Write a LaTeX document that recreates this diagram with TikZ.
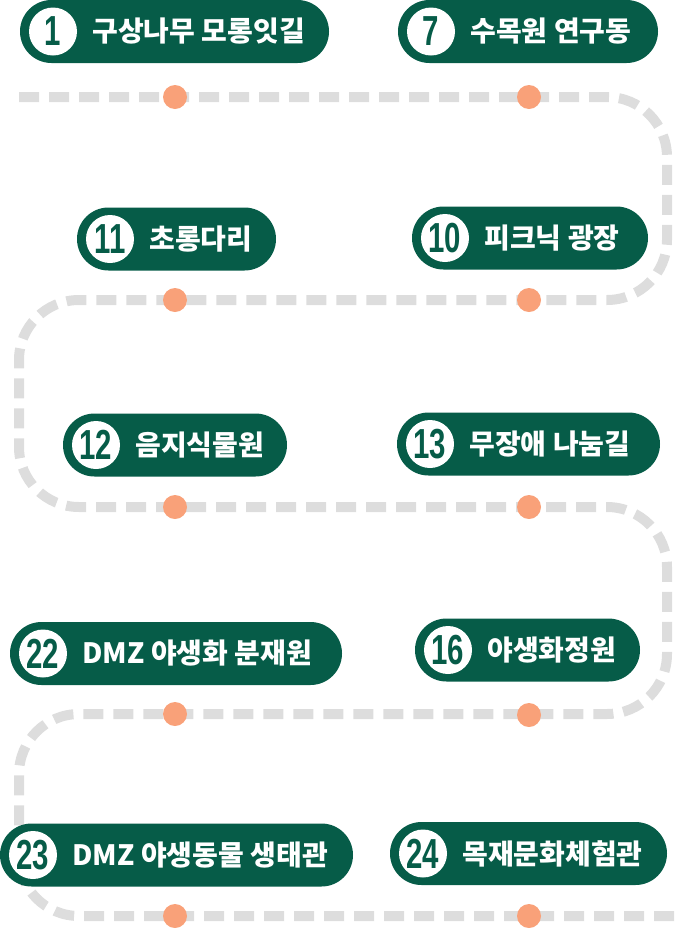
\documentclass[tikz,border=0pt]{standalone}
\usepackage{fontspec}
\usepackage{graphicx}
\usetikzlibrary{positioning}
\newfontfamily\korfont{Noto Sans CJK KR}
\newfontfamily\digitfont{Liberation Sans}
\definecolor{forestgreen}{RGB}{6,92,72}
\definecolor{trailgray}{RGB}{221,221,221}
\definecolor{peachdot}{RGB}{249,161,121}
\newcommand{\stopno}[1]{\scalebox{0.7}[1]{#1}}

\begin{document}
\begin{tikzpicture}[
    x=1pt, y=-1pt,
    pill/.style={
      rectangle,
      rounded corners=31.5pt,
      fill=forestgreen,
      minimum height=63pt,
      inner sep=0pt
    },
    numdisc/.style={
      circle,
      fill=white,
      minimum size=48pt,
      inner sep=0pt,
      text=forestgreen,
      font=\digitfont\bfseries\fontsize{42}{42}\selectfont
    },
    stoplabel/.style={
      inner sep=0pt,
      text=white,
      font=\korfont\bfseries\fontsize{28}{28}\selectfont
    },
    dot/.style={circle, fill=peachdot, minimum size=24pt, inner sep=0pt},
    trail/.style={draw=trailgray, line width=10pt, dash pattern=on 20pt off 10pt, rounded corners=60pt}
]
\useasboundingbox (0,0) rectangle (676,930);

\coordinate (start) at (19,97);
\coordinate (turnA) at (667,97);
\coordinate (turnB) at (667,300);
\coordinate (turnC) at (19,300);
\coordinate (turnD) at (19,507);
\coordinate (turnE) at (667,507);
\coordinate (turnF) at (667,714);
\coordinate (turnG) at (19,714);
\coordinate (turnH) at (19,916);
\coordinate (finish) at (676,916);

\draw[trail] (start) -- (turnA) -- (turnB) -- (turnC) -- (turnD) -- (turnE)
  -- (turnF) -- (turnG) -- (turnH) -- (finish);

\node[dot] (d1) at (175,97) {};
\node[dot] (d7) at (529,97) {};
\node[dot] (d11) at (175,300) {};
\node[dot] (d10) at (529,300) {};
\node[dot] (d12) at (175,507) {};
\node[dot] (d13) at (529,507) {};
\node[dot] (d22) at (175,714) {};
\node[dot] (d16) at (529,715) {};
\node[dot] (d23) at (175,916) {};
\node[dot] (d24) at (529,916) {};

\node[pill, minimum width=309pt] (p1) at (174.5,31.5) {};
\node[numdisc, right=9pt of p1.west] (n1) {\stopno{1}};
\node[stoplabel, right=15pt of n1] (t1) {구상나무 모롱잇길};

\node[pill, minimum width=260pt] (p7) at (528,31.5) {};
\node[numdisc, right=9pt of p7.west] (n7) {\stopno{7}};
\node[stoplabel, right=15pt of n7] (t7) {수목원 연구동};

\node[pill, minimum width=199pt] (p11) at (176.5,239) {};
\node[numdisc, right=9pt of p11.west] (n11) {\stopno{11}};
\node[stoplabel, right=15pt of n11] (t11) {초롱다리};

\node[pill, minimum width=236pt] (p10) at (530,238) {};
\node[numdisc, right=9pt of p10.west] (n10) {\stopno{10}};
\node[stoplabel, right=15pt of n10] (t10) {피크닉 광장};

\node[pill, minimum width=224pt] (p12) at (175,445) {};
\node[numdisc, right=9pt of p12.west] (n12) {\stopno{12}};
\node[stoplabel, right=15pt of n12] (t12) {음지식물원};

\node[pill, minimum width=263pt] (p13) at (528.5,444) {};
\node[numdisc, right=9pt of p13.west] (n13) {\stopno{13}};
\node[stoplabel, right=15pt of n13] (t13) {무장애 나눔길};

\node[pill, minimum width=332pt] (p22) at (176,653.5) {};
\node[numdisc, right=9pt of p22.west] (n22) {\stopno{22}};
\node[stoplabel, right=15pt of n22] (t22) {DMZ 야생화 분재원};

\node[pill, minimum width=225pt] (p16) at (527.5,650) {};
\node[numdisc, right=9pt of p16.west] (n16) {\stopno{16}};
\node[stoplabel, right=15pt of n16] (t16) {야생화정원};

\node[pill, minimum width=353pt] (p23) at (176.5,855) {};
\node[numdisc, right=9pt of p23.west] (n23) {\stopno{23}};
\node[stoplabel, right=15pt of n23] (t23) {DMZ 야생동물 생태관};

\node[pill, minimum width=277pt] (p24) at (528.5,853.5) {};
\node[numdisc, right=9pt of p24.west] (n24) {\stopno{24}};
\node[stoplabel, right=15pt of n24] (t24) {목재문화체험관};
\end{tikzpicture}
\end{document}
